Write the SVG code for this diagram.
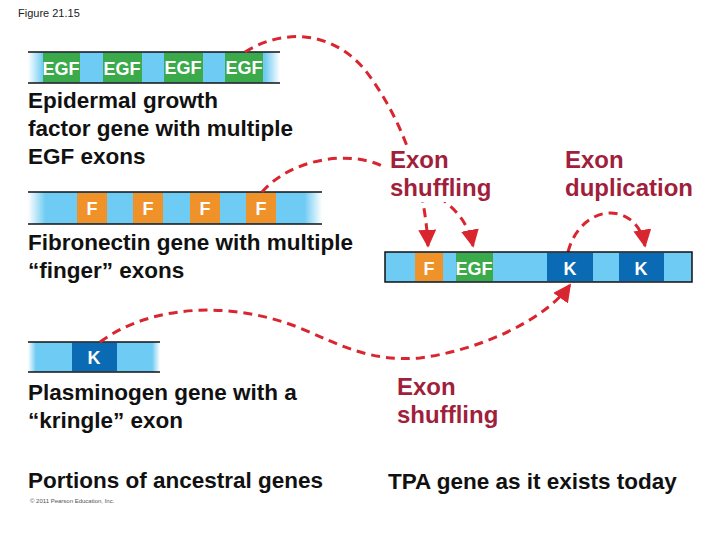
<svg xmlns="http://www.w3.org/2000/svg" width="720" height="540" viewBox="0 0 720 540">
<defs>
<linearGradient id="fade" x1="0" x2="1" y1="0" y2="0">
<stop offset="0" stop-color="#6ecbf3" stop-opacity="0"/><stop offset="0.06" stop-color="#6ecbf3"/><stop offset="0.94" stop-color="#6ecbf3"/><stop offset="1" stop-color="#6ecbf3" stop-opacity="0"/>
</linearGradient>
<marker id="ah" viewBox="0 0 10 10" refX="9" refY="5" markerWidth="6" markerHeight="6" orient="auto"><path d="M0,0 L10,5 L0,10 z" fill="#d9252f"/></marker>
<style>
.lbl{font-family:"Liberation Sans",Arial,sans-serif;font-weight:bold;font-size:22.5px;fill:#111}
.red{font-family:"Liberation Sans",Arial,sans-serif;font-size:24px;font-weight:bold;fill:#a01f3c}
.ex{font-family:"Liberation Sans",Arial,sans-serif;font-weight:bold;font-size:18px;fill:#fff;text-anchor:middle}
.edge{stroke:#111;stroke-width:1.5}
.arr{fill:none;stroke:#d9252f;stroke-width:3;stroke-dasharray:9,6;marker-end:url(#ah)}
</style>
</defs>
<text x="18" y="17" font-family="Liberation Sans,Arial,sans-serif" font-size="11" fill="#222">Figure 21.15</text>
<g id="egf-gene">
<rect x="28" y="52" width="252" height="31" fill="url(#fade)"/>
<line class="edge" x1="28" y1="52" x2="280" y2="52"/><line class="edge" x1="28" y1="83" x2="280" y2="83"/>
<rect x="43" y="53" width="37" height="29" fill="#3aaa4a"/><rect x="103" y="53" width="39" height="29" fill="#3aaa4a"/>
<rect x="164" y="53" width="39" height="29" fill="#3aaa4a"/><rect x="225" y="53" width="38" height="29" fill="#3aaa4a"/>
<text class="ex" x="61" y="75">EGF</text><text class="ex" x="122" y="75">EGF</text><text class="ex" x="183" y="74">EGF</text><text class="ex" x="244" y="74">EGF</text>
<text class="lbl" x="28" y="108">Epidermal growth</text><text class="lbl" x="28" y="136">factor gene with multiple</text><text class="lbl" x="28" y="164">EGF exons</text>
</g>
<g id="fibronectin-gene">
<rect x="28" y="192" width="294" height="32" fill="url(#fade)"/>
<line class="edge" x1="28" y1="192" x2="322" y2="192"/><line class="edge" x1="28" y1="224" x2="322" y2="224"/>
<rect x="77" y="193" width="30" height="30" fill="#f0922a"/><rect x="133" y="193" width="30" height="30" fill="#f0922a"/>
<rect x="190" y="193" width="30" height="30" fill="#f0922a"/><rect x="246" y="193" width="30" height="30" fill="#f0922a"/>
<text class="ex" x="92" y="215">F</text><text class="ex" x="148" y="215">F</text><text class="ex" x="205" y="215">F</text><text class="ex" x="261" y="215">F</text>
<text class="lbl" x="28" y="250">Fibronectin gene with multiple</text><text class="lbl" x="28" y="278">“finger” exons</text>
</g>
<g id="plasminogen-gene">
<rect x="28" y="342" width="132" height="30" fill="url(#fade)"/>
<line class="edge" x1="28" y1="342" x2="160" y2="342"/><line class="edge" x1="28" y1="372" x2="160" y2="372"/>
<rect x="72" y="343" width="45" height="28" fill="#0a6ab4"/>
<text class="ex" x="94" y="364">K</text>
<text class="lbl" x="28" y="400">Plasminogen gene with a</text><text class="lbl" x="28" y="428">“kringle” exon</text>
</g>
<text class="lbl" x="28" y="488">Portions of ancestral genes</text>
<text x="30" y="503" font-family="Liberation Sans,Arial,sans-serif" font-size="6" fill="#555">© 2011 Pearson Education, Inc.</text>
<g id="connectors">
<path class="arr" d="M245,52 C280,30 330,28 365,70 C400,115 425,180 428,246"/>
<path class="arr" d="M262,192 C290,160 345,150 380,165 C430,190 465,205 473,246"/>
<path class="arr" d="M100,342 C150,305 230,300 300,328 C340,345 370,362 420,358 C480,350 545,320 570,285"/>
<path class="arr" d="M568,252 C575,225 595,213 610,213 C630,213 642,228 645,246"/>
</g>
<g id="tpa-gene">
<rect x="385" y="252" width="307" height="30" fill="#6ecbf3" stroke="#111" stroke-width="1.5"/>
<rect x="415" y="253" width="28" height="28" fill="#f0922a"/><rect x="456" y="253" width="37" height="28" fill="#3aaa4a"/>
<rect x="547" y="253" width="46" height="28" fill="#0a6ab4"/><rect x="619" y="253" width="45" height="28" fill="#0a6ab4"/>
<text class="ex" x="429" y="275">F</text><text class="ex" x="474" y="275">EGF</text><text class="ex" x="570" y="275">K</text><text class="ex" x="641" y="275">K</text>
</g>
<g id="labels">
<rect x="386" y="146" width="108" height="56" fill="#fff"/>
<text class="red" x="390" y="168">Exon</text><text class="red" x="390" y="196">shuffling</text>
<text class="red" x="565" y="168">Exon</text><text class="red" x="565" y="196">duplication</text>
<text class="red" x="397" y="395">Exon</text><text class="red" x="397" y="423">shuffling</text>
<text class="lbl" x="388" y="489">TPA gene as it exists today</text>
</g>
</svg>
